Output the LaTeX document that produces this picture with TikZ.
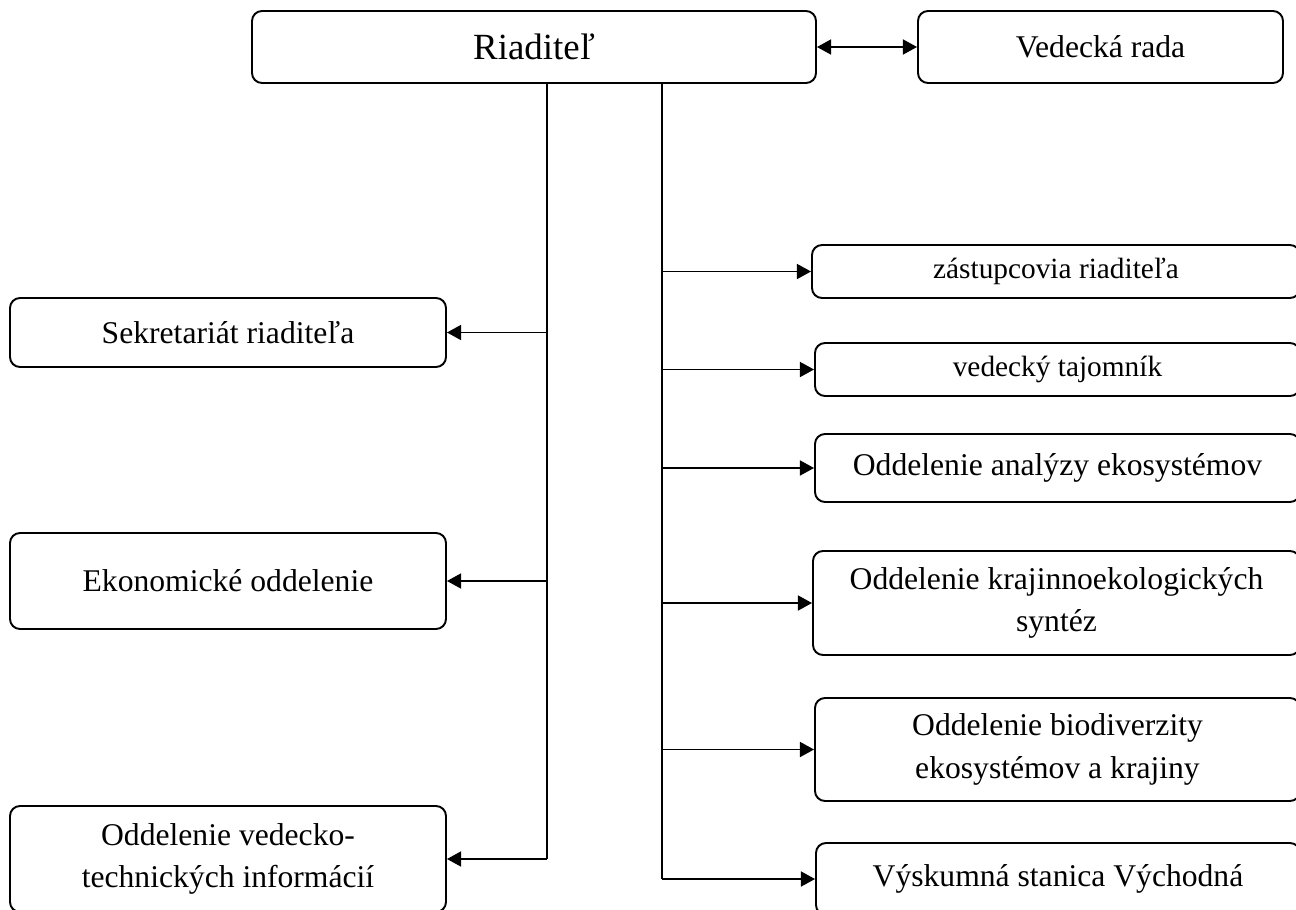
\documentclass[tikz,border=0pt]{standalone}
\usepackage{fontspec}
\setmainfont{Liberation Serif}
\usetikzlibrary{arrows.meta}
\begin{document}
\begin{tikzpicture}[x=0.02cm, y=-0.02cm, line width=1pt, >={Triangle[length=8pt, width=8.5pt]}]
	\tikzstyle{boxA} = [rectangle, draw=black, line width=1.1pt, rounded corners=0.2cm, inner sep=0pt, align=center, font=\fontsize{18}{24}\selectfont]
	\tikzstyle{boxB} = [boxA, font=\fontsize{16.7}{20}\selectfont]
	\tikzstyle{boxC} = [boxA, font=\fontsize{21}{25}\selectfont]

	\useasboundingbox (0,0) rectangle (1296,910);
	\clip (0,0) rectangle (1296,910);

	\foreach \name/\x/\y/\w/\h/\styl/\lbl in {riad/534/47/564/72/C/Riaditeľ, rada/1100.5/47/365/72/A/Vedecká rada,
		sekr/228/332.5/436/69/A/Sekretariát riaditeľa, ekon/228/581/436/96/A/Ekonomické oddelenie,
		vti/228/859/436/106/A/Oddelenie vedecko-\\technických informácií,
		zast/1056/271.5/488/53/B/zástupcovia riaditeľa, tajo/1057.5/369.5/485/53/B/vedecký tajomník,
		anal/1057.5/468/485/68/A/Oddelenie analýzy ekosystémov, kraj/1056.5/603/487/104/A/Oddelenie krajinnoekologických\\syntéz,
		biod/1057.5/749.5/485/103/A/Oddelenie biodiverzity\\ekosystémov a krajiny, vysk/1058/879/484/72/A/Výskumná stanica Východná}
		\node[box\styl, minimum width=\w*0.02cm, minimum height=\h*0.02cm] (\name) at (\x, \y) {\lbl};

	\coordinate (spineL) at (547, 83);
	\coordinate (spineR) at (662, 83);
	\draw (spineL) -- (spineL |- vti.east);
	\draw (spineR) -- (spineR |- vysk.west);

	\foreach \to in {sekr, ekon, vti}
		\draw[->] (spineL |- \to.east) -- (\to.east);
	\foreach \to in {zast, tajo, anal, kraj, biod, vysk}
		\draw[->] (spineR |- \to.west) -- (\to.west);

	\draw[<->] (riad.east) -- (rada.west);
\end{tikzpicture}
\end{document}
